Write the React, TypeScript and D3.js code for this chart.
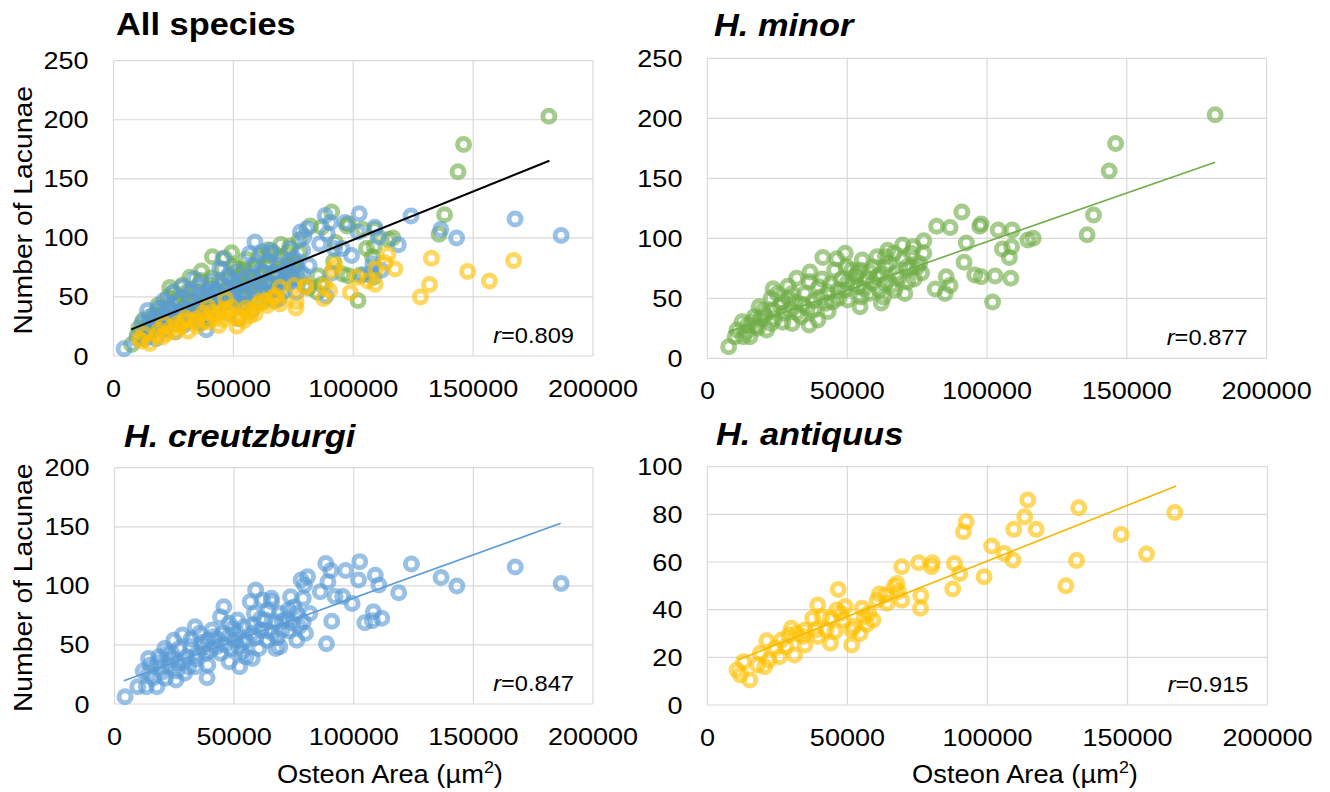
import React from 'react';
import * as d3 from 'd3';

// ---------- DATA (Osteon area µm², number of lacunae) ----------
const minorPoints: [number, number][] = [
  [181600, 203], [146000, 179], [143700, 156], [138100, 119.5], [135800, 103],
  [116500, 100], [114600, 98.6], [109000, 107], [104000, 107], [97900, 112],
  [97400, 110], [91000, 122], [82000, 110], [86800, 109], [92600, 96],
  [105500, 91], [108800, 93], [108000, 84], [91800, 80], [95600, 69.5],
  [97900, 68], [102900, 68.6], [108500, 66.7], [102000, 47], [81500, 57.8],
  [85400, 68], [86800, 60.6], [85000, 54], [77400, 98], [73600, 93],
  [69800, 94.4], [64500, 90], [63700, 84.7], [71300, 76], [75900, 79],
  [76600, 71], [71600, 64], [70600, 54], [63700, 62.5], [67500, 71],
  [63000, 51], [62200, 46], [59200, 76], [55400, 82], [54600, 73.6],
  [53100, 68], [49300, 87.5], [49800, 76], [46300, 83], [41300, 84],
  [45500, 73.6], [51600, 73.6], [53400, 70], [53900, 59.7], [55000, 51],
  [54600, 43], [50100, 48.6], [49300, 57], [46700, 57], [44800, 47],
  [43200, 39], [39800, 59.7], [36700, 72], [36400, 64], [34900, 54],
  [35700, 41.7], [31900, 66.7], [31100, 47], [30300, 54], [28800, 60],
  [27300, 37.5], [26600, 47], [25000, 54], [23500, 58], [22800, 50],
  [23500, 40], [22800, 29], [21200, 23.6], [18500, 43], [19000, 33],
  [16700, 34.7], [14400, 27.8], [12400, 30.5], [15200, 18], [12900, 18],
  [9900, 18], [7600, 9.7], [10600, 23.6], [30300, 29], [33400, 34.7],
  [37900, 40], [36400, 27.8], [39500, 32], [42500, 45.8], [60700, 68],
  [63700, 76], [59200, 62.5], [57700, 54], [66800, 87.5], [60700, 84.7],
  [77400, 87.5], [72800, 87.5], [75100, 76], [26000, 44], [29500, 41],
  [40500, 51], [44000, 62], [48000, 66], [52000, 62], [57000, 66],
  [61500, 57], [66000, 61], [68500, 67], [20500, 36], [17500, 27],
  [14000, 22], [16000, 30], [18000, 25], [20000, 40], [24000, 33],
  [27000, 30], [29000, 50], [32000, 38], [34000, 45], [38000, 48],
  [41000, 66], [43000, 55], [47000, 50], [50000, 63], [56000, 58],
  [58000, 72], [62000, 70], [65000, 79], [67000, 57], [70000, 83],
  [73000, 76], [74000, 66],
];

const creutzPoints: [number, number][] = [
  [186700, 102], [167500, 116], [143100, 99.9], [136500, 107], [124100, 118.5],
  [118800, 94.2], [110500, 100.7], [109000, 109], [111700, 72.5], [108200, 78],
  [107800, 70.5], [104600, 68.8], [102500, 120.5], [102000, 105], [99300, 85],
  [96600, 113], [95400, 91], [92200, 91], [90400, 113], [88300, 119],
  [89200, 103.5], [90800, 70], [88600, 51], [86000, 95], [80700, 107.8],
  [78000, 105], [79400, 100.7], [78900, 89.4], [81600, 76.7], [78900, 69.7],
  [79800, 59.8], [73600, 90.8], [72700, 79.6], [74500, 68.3], [70000, 62.6],
  [67400, 47], [65600, 89.4], [64200, 79.6], [61200, 62.6], [59000, 96.5],
  [56700, 86.6], [58500, 76.7], [57600, 59.8], [60300, 47], [57600, 38.6],
  [53200, 44.3], [52300, 31.6], [50500, 54], [47900, 68.3], [45700, 82.4],
  [45200, 59.8], [44300, 42.9], [47900, 35.8], [40800, 62.6], [39000, 54],
  [38100, 42.9], [39000, 33], [38700, 22.3], [34600, 42.9], [35500, 59.8],
  [31900, 48.5], [31000, 31.6], [30100, 40], [26600, 34.4], [28400, 58.4],
  [24800, 54], [23900, 42.9], [23000, 31.6], [25700, 20.3], [21300, 21.7],
  [19500, 31.6], [18600, 40], [17700, 14.7], [14200, 38.6], [14200, 26],
  [13300, 14.7], [9750, 14.7], [4400, 6.2], [16000, 21.7], [33700, 65.4],
  [44300, 73.9], [51400, 71], [54100, 65.4], [62900, 71], [67400, 69.7],
  [69100, 76.7], [76200, 76.7], [48800, 47], [55000, 54], [63800, 54],
  [69100, 48.5], [76200, 54], [42600, 48.5], [33700, 31.6], [29300, 26],
  [22200, 42.9], [51400, 59.8], [62000, 88], [65600, 86.6], [77100, 65.4],
  [27000, 47], [36500, 52], [41500, 57], [49500, 64], [53500, 52],
  [58000, 67], [64000, 62], [68000, 56], [72000, 72], [20000, 27],
  [12000, 28], [15000, 33], [18000, 35], [21000, 47], [24000, 38],
  [26000, 28], [29000, 36], [32000, 55], [34000, 38], [37000, 48],
  [40000, 45], [43000, 55], [46000, 50], [48000, 58], [52000, 48],
  [55000, 40], [59000, 56], [61000, 72], [66000, 60], [70000, 70],
  [73000, 62], [75000, 82],
];

const antiquusPoints: [number, number][] = [
  [166900, 80.8], [156800, 63.4], [147700, 71.6], [132600, 82.8], [131800, 60.6],
  [128000, 50], [114400, 86], [113300, 79], [117400, 73.7], [109400, 73.7],
  [109100, 60.8], [106000, 63.6], [101500, 66.7], [98800, 53.8], [92400, 76.9],
  [91400, 72.7], [90100, 55.2], [88200, 59.4], [87600, 48.7], [80300, 59.7],
  [80000, 58], [75400, 59.7], [76200, 45.9], [76100, 40.6], [69400, 58],
  [67700, 51], [68200, 47.6], [69400, 44], [64100, 42.7], [61400, 46.6],
  [60600, 44], [59100, 35.7], [56800, 33.8], [55300, 40.6], [52300, 32.9],
  [51500, 25.2], [49200, 41.3], [46700, 48.5], [46200, 39.9], [47700, 38.5],
  [48500, 35.7], [43900, 36.4], [43900, 25.9], [39400, 42], [39400, 28.7],
  [37600, 36.4], [34800, 31.5], [34800, 25.2], [31100, 21], [30000, 32.2],
  [29100, 29.4], [26500, 27.3], [24200, 23.8], [21200, 27], [22000, 18.9],
  [18900, 21.7], [17900, 16.8], [15150, 10.5], [12900, 18.2], [11800, 12.6],
  [10600, 14.7], [20450, 16.1], [25750, 20.3], [28000, 24.5], [31800, 30],
  [38600, 31.5], [42400, 31.5], [45500, 30.8], [51500, 31.5], [54500, 30],
  [57600, 38.5], [63600, 46.2], [66700, 49.7], [56000, 37], [40900, 37],
  [34100, 28.7],
];

// trend lines: [x start, y start], [x end, y end]
const trendAll: [number, number][] = [[7400, 22.6], [181800, 165.3]];
const trendMinor: [number, number][] = [[7600, 22.2], [181600, 163.3]];
const trendCreutz: [number, number][] = [[3900, 19.7], [186500, 152.9]];
const trendAntiquus: [number, number][] = [[10900, 18.9], [167400, 91.9]];

const rValues = ['0.809', '0.877', '0.847', '0.915'];
const panelTitles = ['All species', 'H. minor', 'H. creutzburgi', 'H. antiquus'];
const xTicks = [0, 50000, 100000, 150000, 200000];
const yTicks250 = [0, 50, 100, 150, 200, 250];
const yTicks200 = [0, 50, 100, 150, 200];
const yTicks100 = [0, 20, 40, 60, 80, 100];

// ---------- STYLE ----------
const GREEN = '#70AD47';
const BLUE = '#5B9BD5';
const YELLOW = '#FFC000';
const FONT = '"Liberation Sans", Arial, Helvetica, sans-serif';
const GRID = '#d9d9d9';

type Series = { pts: [number, number][]; color: string };
type Panel = {
  title: string; italic: boolean; titleX: number; titleY: number;
  left: number; right: number; top: number; bottom: number;
  yMax: number; yTicks: number[]; series: Series[];
  trend: [number, number][]; trendColor: string; trendWidth: number;
  r: string; yTitle: boolean; xTitle: boolean; xTitleX: number;
};

const panels: Panel[] = [
  { title: panelTitles[0], italic: false, titleX: 116, titleY: 35,
    left: 113.5, right: 593, top: 60.7, bottom: 356, yMax: 250, yTicks: yTicks250,
    series: [{ pts: minorPoints, color: GREEN }, { pts: creutzPoints, color: BLUE }, { pts: antiquusPoints, color: YELLOW }],
    trend: trendAll, trendColor: '#000', trendWidth: 2, r: rValues[0], yTitle: true, xTitle: false, xTitleX: 0 },
  { title: panelTitles[1], italic: true, titleX: 714, titleY: 36,
    left: 707.4, right: 1266.6, top: 58.3, bottom: 358.3, yMax: 250, yTicks: yTicks250,
    series: [{ pts: minorPoints, color: GREEN }],
    trend: trendMinor, trendColor: GREEN, trendWidth: 1.6, r: rValues[1], yTitle: false, xTitle: false, xTitleX: 0 },
  { title: panelTitles[2], italic: true, titleX: 124, titleY: 446.5,
    left: 114.5, right: 593, top: 467.7, bottom: 704, yMax: 200, yTicks: yTicks200,
    series: [{ pts: creutzPoints, color: BLUE }],
    trend: trendCreutz, trendColor: BLUE, trendWidth: 1.6, r: rValues[2], yTitle: true, xTitle: true, xTitleX: 390 },
  { title: panelTitles[3], italic: true, titleX: 716, titleY: 445,
    left: 707.4, right: 1267.5, top: 466.7, bottom: 705, yMax: 100, yTicks: yTicks100,
    series: [{ pts: antiquusPoints, color: YELLOW }],
    trend: trendAntiquus, trendColor: '#F5B800', trendWidth: 1.6, r: rValues[3], yTitle: false, xTitle: true, xTitleX: 1025 },
];

const SX = 1.15; // horizontal stretch of the reference lettering

function SText(props: {
  x: number; y: number; size: number; anchor?: string; rotate?: number; sx?: number;
  weight?: string | number; italic?: boolean; children: React.ReactNode;
}) {
  const { x, y, size, anchor = 'start', rotate = 0, sx = SX, weight = 'normal', italic = false, children } = props;
  return (
    <text
      transform={`translate(${x},${y}) rotate(${rotate}) scale(${sx},1)`}
      fontFamily={FONT}
      fontSize={size}
      fontWeight={weight}
      fontStyle={italic ? 'italic' : 'normal'}
      textAnchor={anchor as any}
      fill="#000"
    >
      {children}
    </text>
  );
}

function PanelView({ p }: { p: Panel }) {
  const x = d3.scaleLinear().domain([0, 200000]).range([p.left, p.right]);
  const y = d3.scaleLinear().domain([0, p.yMax]).range([p.bottom, p.top]);
  const line = d3.line<[number, number]>().x(d => x(d[0])).y(d => y(d[1]));
  return (
    <g>
      {p.yTicks.map(t => (
        <line key={'gy' + t} x1={p.left} x2={p.right} y1={y(t)} y2={y(t)} stroke={GRID} strokeWidth={1.2} />
      ))}
      {xTicks.map(t => (
        <line key={'gx' + t} x1={x(t)} x2={x(t)} y1={p.top} y2={p.bottom} stroke={GRID} strokeWidth={1.2} />
      ))}
      {p.series.map((s, si) => (
        <g key={si}>
          {s.pts.map((d, i) => (
            <circle key={i} cx={x(d[0])} cy={y(d[1])} r={6} fill="none"
              stroke={s.color} strokeWidth={5} strokeOpacity={0.62} />
          ))}
        </g>
      ))}
      <path d={line(p.trend) || ''} stroke={p.trendColor} strokeWidth={p.trendWidth} fill="none" />
      {p.yTicks.map(t => (
        <SText key={'ly' + t} x={p.left - 25} y={y(t) + 8.5} size={23.5} anchor="end">{String(t)}</SText>
      ))}
      {xTicks.map(t => (
        <SText key={'lx' + t} x={x(t)} y={p.bottom + 41} size={23.5} anchor="middle">{String(t)}</SText>
      ))}
      <SText x={p.right - 19} y={p.bottom - 13} size={21.5} anchor="end" sx={1.1}>
        <tspan fontStyle="italic">r</tspan>={p.r}
      </SText>
      <SText x={p.titleX} y={p.titleY} size={31} weight="bold" italic={p.italic} sx={1.11}>{p.title}</SText>
      {p.yTitle && (
        <SText x={32} y={(p.top + p.bottom) / 2 + 2} size={25.5} anchor="middle" rotate={-90} sx={1.11}>
          Number of Lacunae
        </SText>
      )}
      {p.xTitle && (
        <SText x={p.xTitleX} y={783} size={26} anchor="middle" sx={1.05}>
          Osteon Area (µm<tspan dy={-10} fontSize={17}>2</tspan><tspan dy={10}>)</tspan>
        </SText>
      )}
    </g>
  );
}

export default function App() {
  return (
    <svg width={1330} height={792} viewBox="0 0 1330 792"
      style={{ position: 'absolute', left: 0, top: 0, background: '#fff' }}>
      <rect x={0} y={0} width={1330} height={792} fill="#fff" />
      {panels.map((p, i) => <PanelView key={i} p={p} />)}
    </svg>
  );
}
